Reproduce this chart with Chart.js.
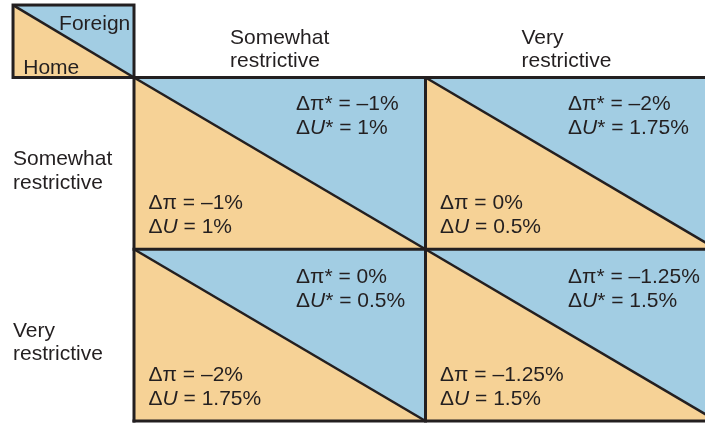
<!DOCTYPE html>
<html>
<head>
<meta charset="utf-8">
<script src="https://cdn.jsdelivr.net/npm/chart.js@4/dist/chart.umd.min.js"></script>
<style>
  html, body { margin: 0; padding: 0; background: #ffffff; }
  #wrap { width: 705px; height: 424px; }
</style>
</head>
<body>
<div id="wrap"><canvas id="c" width="705" height="424"></canvas></div>
<script>
// ---- Data ----
const homePolicies = ['Somewhat restrictive', 'Very restrictive'];     // rows
const foreignPolicies = ['Somewhat restrictive', 'Very restrictive'];  // columns
const cornerLabels = ['Foreign', 'Home'];
// values indexed [homeRow][foreignCol], in percent
const homeInflationChange = [[-1, 0], [-2, -1.25]];
const homeUnemploymentChange = [[1, 0.5], [1.75, 1.5]];
const foreignInflationChange = [[-1, -2], [0, -1.25]];
const foreignUnemploymentChange = [[1, 1.75], [0.5, 1.5]];

// ---- Styles / layout ----
const BLUE = '#a2cde3';
const PEACH = '#f6d296';
const INK = '#231f20';
const FONT_FAMILY = '"Liberation Sans", Arial, Helvetica, sans-serif';
const FONT_SIZE = 21;

function fmt(v) {
  const s = String(Math.abs(v));
  return (v < 0 ? '\u2013' : '') + s + '%';
}

function drawSegments(ctx, segs, x, y) {
  let cx = x;
  for (const s of segs) {
    ctx.font = (s.i ? 'italic ' : '') + FONT_SIZE + 'px ' + FONT_FAMILY;
    ctx.fillText(s.t, cx, y);
    cx += ctx.measureText(s.t).width;
  }
}

const matrixPlugin = {
  id: 'payoffMatrix',
  beforeDatasetsDraw(chart) {
    const ctx = chart.ctx;
    const xs = chart.scales.x, ys = chart.scales.y;
    const X = v => xs.getPixelForValue(v);
    const Y = v => ys.getPixelForValue(v);
    const nR = homePolicies.length, nC = foreignPolicies.length;

    ctx.save();
    ctx.lineJoin = 'miter';

    // corner box
    const cx0 = X(-0.415), cy0 = Y(-0.422), cx1 = X(0), cy1 = Y(0);
    ctx.fillStyle = BLUE;
    ctx.beginPath(); ctx.moveTo(cx0, cy0); ctx.lineTo(cx1, cy0); ctx.lineTo(cx1, cy1); ctx.closePath(); ctx.fill();
    ctx.fillStyle = PEACH;
    ctx.beginPath(); ctx.moveTo(cx0, cy0); ctx.lineTo(cx0, cy1); ctx.lineTo(cx1, cy1); ctx.closePath(); ctx.fill();

    // cells
    for (let r = 0; r < nR; r++) {
      for (let c = 0; c < nC; c++) {
        const x0 = X(c), x1 = X(c + 1), y0 = Y(r), y1 = Y(r + 1);
        ctx.fillStyle = BLUE;
        ctx.beginPath(); ctx.moveTo(x0, y0); ctx.lineTo(x1, y0); ctx.lineTo(x1, y1); ctx.closePath(); ctx.fill();
        ctx.fillStyle = PEACH;
        ctx.beginPath(); ctx.moveTo(x0, y0); ctx.lineTo(x0, y1); ctx.lineTo(x1, y1); ctx.closePath(); ctx.fill();
      }
    }

    // diagonals
    ctx.strokeStyle = INK;
    ctx.lineWidth = 2.6;
    ctx.beginPath(); ctx.moveTo(cx0, cy0); ctx.lineTo(cx1, cy1); ctx.stroke();
    for (let r = 0; r < nR; r++) {
      for (let c = 0; c < nC; c++) {
        ctx.beginPath(); ctx.moveTo(X(c), Y(r)); ctx.lineTo(X(c + 1), Y(r + 1)); ctx.stroke();
      }
    }

    // borders
    ctx.lineWidth = 3;
    ctx.strokeRect(cx0, cy0, cx1 - cx0, cy1 - cy0);
    for (let r = 0; r <= nR; r++) {
      ctx.beginPath(); ctx.moveTo(X(0) - 1.5, Y(r)); ctx.lineTo(X(nC) + 1.5, Y(r)); ctx.stroke();
    }
    for (let c = 0; c <= nC; c++) {
      ctx.beginPath(); ctx.moveTo(X(c), Y(0) - 1.5); ctx.lineTo(X(c), Y(nR) + 1.5); ctx.stroke();
    }

    // texts
    ctx.fillStyle = INK;
    ctx.textBaseline = 'alphabetic';
    ctx.textAlign = 'left';
    ctx.font = FONT_SIZE + 'px ' + FONT_FAMILY;

    // corner labels
    ctx.fillText(cornerLabels[0], X(-0.257), Y(-0.279));
    ctx.fillText(cornerLabels[1], X(-0.38), Y(-0.02));

    // column headers
    for (let c = 0; c < nC; c++) {
      const words = foreignPolicies[c].split(' ');
      const hx = X(c) + 96;
      ctx.fillText(words[0], hx, 44);
      ctx.fillText(words[1], hx, 67);
    }
    // row headers
    for (let r = 0; r < nR; r++) {
      const words = homePolicies[r].split(' ');
      ctx.fillText(words[0], 13, Y(r) + 87.5);
      ctx.fillText(words[1], 13, Y(r) + 111);
    }

    // cell values
    const upperOffset = [162, 142.5];
    for (let r = 0; r < nR; r++) {
      for (let c = 0; c < nC; c++) {
        const ux = X(c) + upperOffset[c];
        const top = Y(r) + (r === 0 ? 32 : 34);
        drawSegments(ctx, [{t: '\u0394\u03c0* = ' + fmt(foreignInflationChange[r][c])}], ux, top);
        drawSegments(ctx, [{t: '\u0394'}, {t: 'U', i: true}, {t: '* = ' + fmt(foreignUnemploymentChange[r][c])}], ux, top + 24);
        const lx = X(c) + 14.5;
        const low = Y(r) + 131.5;
        drawSegments(ctx, [{t: '\u0394\u03c0 = ' + fmt(homeInflationChange[r][c])}], lx, low);
        drawSegments(ctx, [{t: '\u0394'}, {t: 'U', i: true}, {t: ' = ' + fmt(homeUnemploymentChange[r][c])}], lx, low + 24);
      }
    }
    ctx.restore();
  }
};

// Scales: column/row boundaries sit at integer values 0..2
const COL_W = 291.5, ROW_H = 171.75, GRID_LEFT = 134, GRID_TOP = 77.5;
new Chart(document.getElementById('c'), {
  type: 'scatter',
  data: { datasets: [{ data: [], pointRadius: 0 }] },
  options: {
    responsive: false,
    devicePixelRatio: 1,
    animation: false,
    layout: { padding: 0 },
    plugins: { legend: { display: false }, tooltip: { enabled: false } },
    scales: {
      x: { type: 'linear', display: false, min: -GRID_LEFT / COL_W, max: (705 - GRID_LEFT) / COL_W },
      y: { type: 'linear', display: false, reverse: true, min: -GRID_TOP / ROW_H, max: (424 - GRID_TOP) / ROW_H }
    }
  },
  plugins: [matrixPlugin]
});
</script>
</body>
</html>
